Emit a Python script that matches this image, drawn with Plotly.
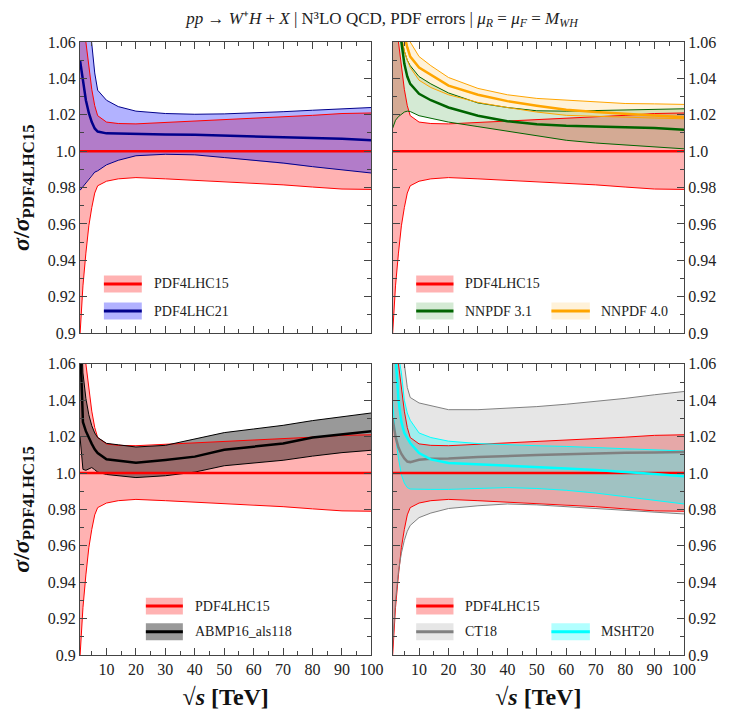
import plotly.graph_objects as go
from plotly.subplots import make_subplots

# sqrt(s) grid in TeV
SQRT_S = [1, 2, 3, 4, 5, 6, 7, 10, 14, 20, 30, 40, 50, 60, 70, 80, 90, 100]

# PDF4LHC15 (reference, central = 1)
p15_c = [1.0] * len(SQRT_S)
p15_up = [1.12, 1.085, 1.06, 1.046, 1.034, 1.025, 1.0195, 1.016, 1.0152, 1.015, 1.0158, 1.0165, 1.017, 1.0178, 1.0186, 1.0197, 1.0207, 1.021]
p15_lo = [0.899, 0.926, 0.944, 0.959, 0.969, 0.977, 0.981, 0.9835, 0.9848, 0.9855, 0.9848, 0.984, 0.9833, 0.9825, 0.9815, 0.9803, 0.9792, 0.979]

# PDF4LHC21
p21_c = [1.05, 1.038, 1.028, 1.021, 1.016, 1.0125, 1.0108, 1.0098, 1.0096, 1.0094, 1.0092, 1.009, 1.0086, 1.0083, 1.008, 1.0076, 1.0068, 1.006]
p21_up = [1.2, 1.14, 1.1, 1.075, 1.06, 1.043, 1.0335, 1.028, 1.0245, 1.022, 1.0207, 1.0203, 1.0205, 1.021, 1.0217, 1.0225, 1.0233, 1.024]
p21_lo = [0.9785, 0.9805, 0.983, 0.985, 0.987, 0.9885, 0.9892, 0.9925, 0.995, 0.9975, 0.9983, 0.998, 0.9965, 0.995, 0.9935, 0.9915, 0.9897, 0.988]

# NNPDF 3.1
nn31_c = [1.15, 1.11, 1.08, 1.06, 1.048, 1.041, 1.037, 1.0315, 1.028, 1.024, 1.0195, 1.0165, 1.0148, 1.014, 1.0137, 1.0134, 1.0127, 1.0118]
nn31_up = [1.2, 1.14, 1.09, 1.062, 1.055, 1.05, 1.047, 1.041, 1.037, 1.032, 1.0265, 1.024, 1.0222, 1.022, 1.0223, 1.0227, 1.023, 1.0233]
nn31_lo = [1.0125, 1.017, 1.019, 1.0205, 1.0215, 1.022, 1.0218, 1.0195, 1.018, 1.016, 1.0135, 1.011, 1.0085, 1.006, 1.0045, 1.0033, 1.0022, 1.0013]

# NNPDF 4.0
nn40_c = [1.25, 1.16, 1.1, 1.078, 1.064, 1.057, 1.052, 1.046, 1.042, 1.036, 1.031, 1.0275, 1.025, 1.0228, 1.0215, 1.0207, 1.0197, 1.0187]
nn40_up = [1.3, 1.2, 1.12, 1.09, 1.075, 1.065, 1.06, 1.052, 1.047, 1.0405, 1.0345, 1.031, 1.029, 1.028, 1.027, 1.0262, 1.026, 1.0257]
nn40_lo = [1.2, 1.12, 1.08, 1.065, 1.055, 1.05, 1.046, 1.039, 1.035, 1.031, 1.0268, 1.024, 1.0215, 1.0197, 1.019, 1.0187, 1.0182, 1.0178]

# ABMP16_als118
abmp_c = [1.075, 1.028, 1.023, 1.019, 1.016, 1.013, 1.011, 1.0075, 1.0066, 1.0056, 1.0072, 1.009, 1.0128, 1.0143, 1.0162, 1.0195, 1.0213, 1.0229]
abmp_up = [1.1, 1.055, 1.041, 1.032, 1.026, 1.022, 1.0195, 1.0163, 1.0155, 1.0143, 1.0152, 1.0185, 1.0222, 1.0242, 1.0262, 1.0288, 1.031, 1.033]
abmp_lo = [1.02, 1.002, 1.0015, 1.0022, 1.003, 1.0018, 1.0005, 0.9992, 0.9985, 0.9975, 0.9985, 1.0005, 1.004, 1.0055, 1.007, 1.0093, 1.0112, 1.0125]

# CT18
ct18_c = [1.03, 1.02, 1.014, 1.0105, 1.008, 1.0063, 1.006, 1.0073, 1.0078, 1.008, 1.0088, 1.0095, 1.0099, 1.0103, 1.0108, 1.0111, 1.0113, 1.0115]
ct18_up = [1.2, 1.14, 1.1, 1.08, 1.06, 1.047, 1.0415, 1.0385, 1.037, 1.0348, 1.0348, 1.0355, 1.0365, 1.0378, 1.0392, 1.041, 1.043, 1.0448]
ct18_lo = [0.905, 0.93, 0.946, 0.956, 0.963, 0.968, 0.9712, 0.9755, 0.978, 0.9805, 0.982, 0.983, 0.9825, 0.9815, 0.9805, 0.9795, 0.9785, 0.9775]

# MSHT20
msht_c = [1.12, 1.065, 1.04, 1.028, 1.022, 1.019, 1.0165, 1.011, 1.0075, 1.0055, 1.0048, 1.0043, 1.0035, 1.0025, 1.0017, 1.0008, 0.9995, 0.9982]
msht_up = [1.2, 1.1, 1.065, 1.055, 1.04, 1.033, 1.029, 1.022, 1.0195, 1.0175, 1.0162, 1.0155, 1.015, 1.0146, 1.014, 1.0135, 1.0128, 1.0121]
msht_lo = [1.04, 1.02, 1.008, 0.999, 0.9945, 0.992, 0.9912, 0.991, 0.991, 0.991, 0.9915, 0.992, 0.9915, 0.9905, 0.989, 0.987, 0.985, 0.983]

Y_TICKS = [0.9, 0.92, 0.94, 0.96, 0.98, 1.0, 1.02, 1.04, 1.06]
Y_LABELS = ["0.9", "0.92", "0.94", "0.96", "0.98", "1.0", "1.02", "1.04", "1.06"]
X_TICKS = [10, 20, 30, 40, 50, 60, 70, 80, 90, 100]

SERIF = "Liberation Serif, Times New Roman, serif"

# name: (central, up, lo, line colour, fill colour)
SETS = {
    "PDF4LHC15": (p15_c, p15_up, p15_lo, "#ff0000", "rgba(255,0,0,0.3)"),
    "PDF4LHC21": (p21_c, p21_up, p21_lo, "#00008b", "rgba(0,0,255,0.3)"),
    "NNPDF 3.1": (nn31_c, nn31_up, nn31_lo, "#006400", "rgba(0,128,0,0.17)"),
    "NNPDF 4.0": (nn40_c, nn40_up, nn40_lo, "#ffa500", "rgba(255,165,0,0.15)"),
    "ABMP16_als118": (abmp_c, abmp_up, abmp_lo, "#000000", "rgba(0,0,0,0.4)"),
    "CT18": (ct18_c, ct18_up, ct18_lo, "#808080", "rgba(128,128,128,0.2)"),
    "MSHT20": (msht_c, msht_up, msht_lo, "#00ffff", "rgba(0,255,255,0.3)"),
}

PANELS = [
    (1, 1, ["PDF4LHC15", "PDF4LHC21"]),
    (1, 2, ["PDF4LHC15", "NNPDF 3.1", "NNPDF 4.0"]),
    (2, 1, ["PDF4LHC15", "ABMP16_als118"]),
    (2, 2, ["PDF4LHC15", "CT18", "MSHT20"]),
]

fig = make_subplots(rows=2, cols=2, shared_xaxes=True,
                    horizontal_spacing=0.035, vertical_spacing=0.05)

for row, col, names in PANELS:
    # bands first
    for n in names:
        c, up, lo, lc, fc = SETS[n]
        fig.add_trace(go.Scatter(x=SQRT_S + SQRT_S[::-1], y=up + lo[::-1], fill="toself",
                                 fillcolor=fc, line=dict(width=0), mode="lines",
                                 hoverinfo="skip", showlegend=False), row=row, col=col)
    # edges
    for n in names:
        c, up, lo, lc, fc = SETS[n]
        for edge in (up, lo):
            fig.add_trace(go.Scatter(x=SQRT_S, y=edge, mode="lines", line=dict(color=lc, width=1),
                                     showlegend=False), row=row, col=col)
    # central values
    for n in names:
        c, up, lo, lc, fc = SETS[n]
        fig.add_trace(go.Scatter(x=SQRT_S, y=c, mode="lines", line=dict(color=lc, width=2.5),
                                 name=n, showlegend=False), row=row, col=col)

# hand-made legends inside each panel
LEG_ROWS = {1: [0.169, 0.076], 2: [0.168, 0.080]}
LEG_COLS = {
    (1, 1): [(0.082, 0.212, 0.247)],
    (1, 2): [(0.081, 0.209, 0.242), (0.545, 0.677, 0.708)],
    (2, 1): [(0.226, 0.353, 0.387)],
    (2, 2): [(0.081, 0.209, 0.242), (0.545, 0.677, 0.708)],
}
for i, (row, col, names) in enumerate(PANELS):
    sfx = "" if i == 0 else str(i + 1)
    xr, yr = "x%s domain" % sfx, "y%s domain" % sfx
    slots = [(0, 0), (1, 0), (1, 1)]
    for n, (r, k) in zip(names, slots):
        x0, x1, xt = LEG_COLS[(row, col)][k]
        yc = LEG_ROWS[row][r]
        _, _, _, lc, fc = SETS[n]
        fig.add_shape(type="rect", xref=xr, yref=yr, x0=x0, x1=x1, y0=yc - 0.029, y1=yc + 0.029,
                      fillcolor=fc, line=dict(width=0), layer="above")
        fig.add_shape(type="line", xref=xr, yref=yr, x0=x0, x1=x1, y0=yc, y1=yc,
                      line=dict(color=lc, width=3), layer="above")
        fig.add_annotation(xref=xr, yref=yr, x=xt, y=yc, text=n, showarrow=False,
                           xanchor="left", yanchor="middle",
                           font=dict(family=SERIF, size=14, color="#222"))

axis_common = dict(showline=True, linecolor="#444", linewidth=1, mirror="allticks",
                   ticks="inside", ticklen=7, tickcolor="#444", showgrid=False, zeroline=False,
                   automargin=False,
                   tickfont=dict(family=SERIF, size=16, color="#222"))

for i in range(1, 5):
    row = 1 if i <= 2 else 2
    col = 1 if i % 2 == 1 else 2
    fig.update_xaxes(range=[1, 100], tickvals=X_TICKS, showticklabels=(row == 2),
                     minor=dict(ticks="inside", ticklen=4, dtick=5, tick0=0, tickcolor="#444"),
                     row=row, col=col, **axis_common)
    fig.update_yaxes(range=[0.9, 1.06], tickvals=Y_TICKS, ticktext=Y_LABELS,
                     side="left" if col == 1 else "right",
                     minor=dict(ticks="inside", ticklen=4, dtick=0.01, tick0=0.9, tickcolor="#444"),
                     row=row, col=col, **axis_common)

ytitle = "<b><i>σ</i>/<i>σ</i><sub>PDF4LHC15</sub></b>"
xtitle = "<b>√<i>s</i> [TeV]</b>"
for r in (1, 2):
    fig.update_yaxes(title=dict(text=ytitle, font=dict(family=SERIF, size=24, color="#111"), standoff=12),
                     row=r, col=1)
for c in (1, 2):
    fig.update_xaxes(title=dict(text=xtitle, font=dict(family=SERIF, size=24, color="#111"), standoff=10),
                     row=2, col=c)

# page body adds an 8 px offset, so the figure is 8 px smaller than the window
fig.update_layout(
    width=724, height=703,
    margin=dict(l=72, r=48, t=34, b=56),
    plot_bgcolor="white", paper_bgcolor="white",
    showlegend=False,
    title=dict(text="<i>pp</i> → <i>W</i>⁺<i>H</i> + <i>X</i> | N³LO QCD, PDF errors | "
                    "<i>μ<sub>R</sub></i> = <i>μ<sub>F</sub></i> = <i>M<sub>WH</sub></i>",
               x=0.5, xref="paper", xanchor="center", y=0.986, yref="container", yanchor="middle",
               font=dict(family=SERIF, size=17, color="#222")),
)

fig.write_html("out.html")
